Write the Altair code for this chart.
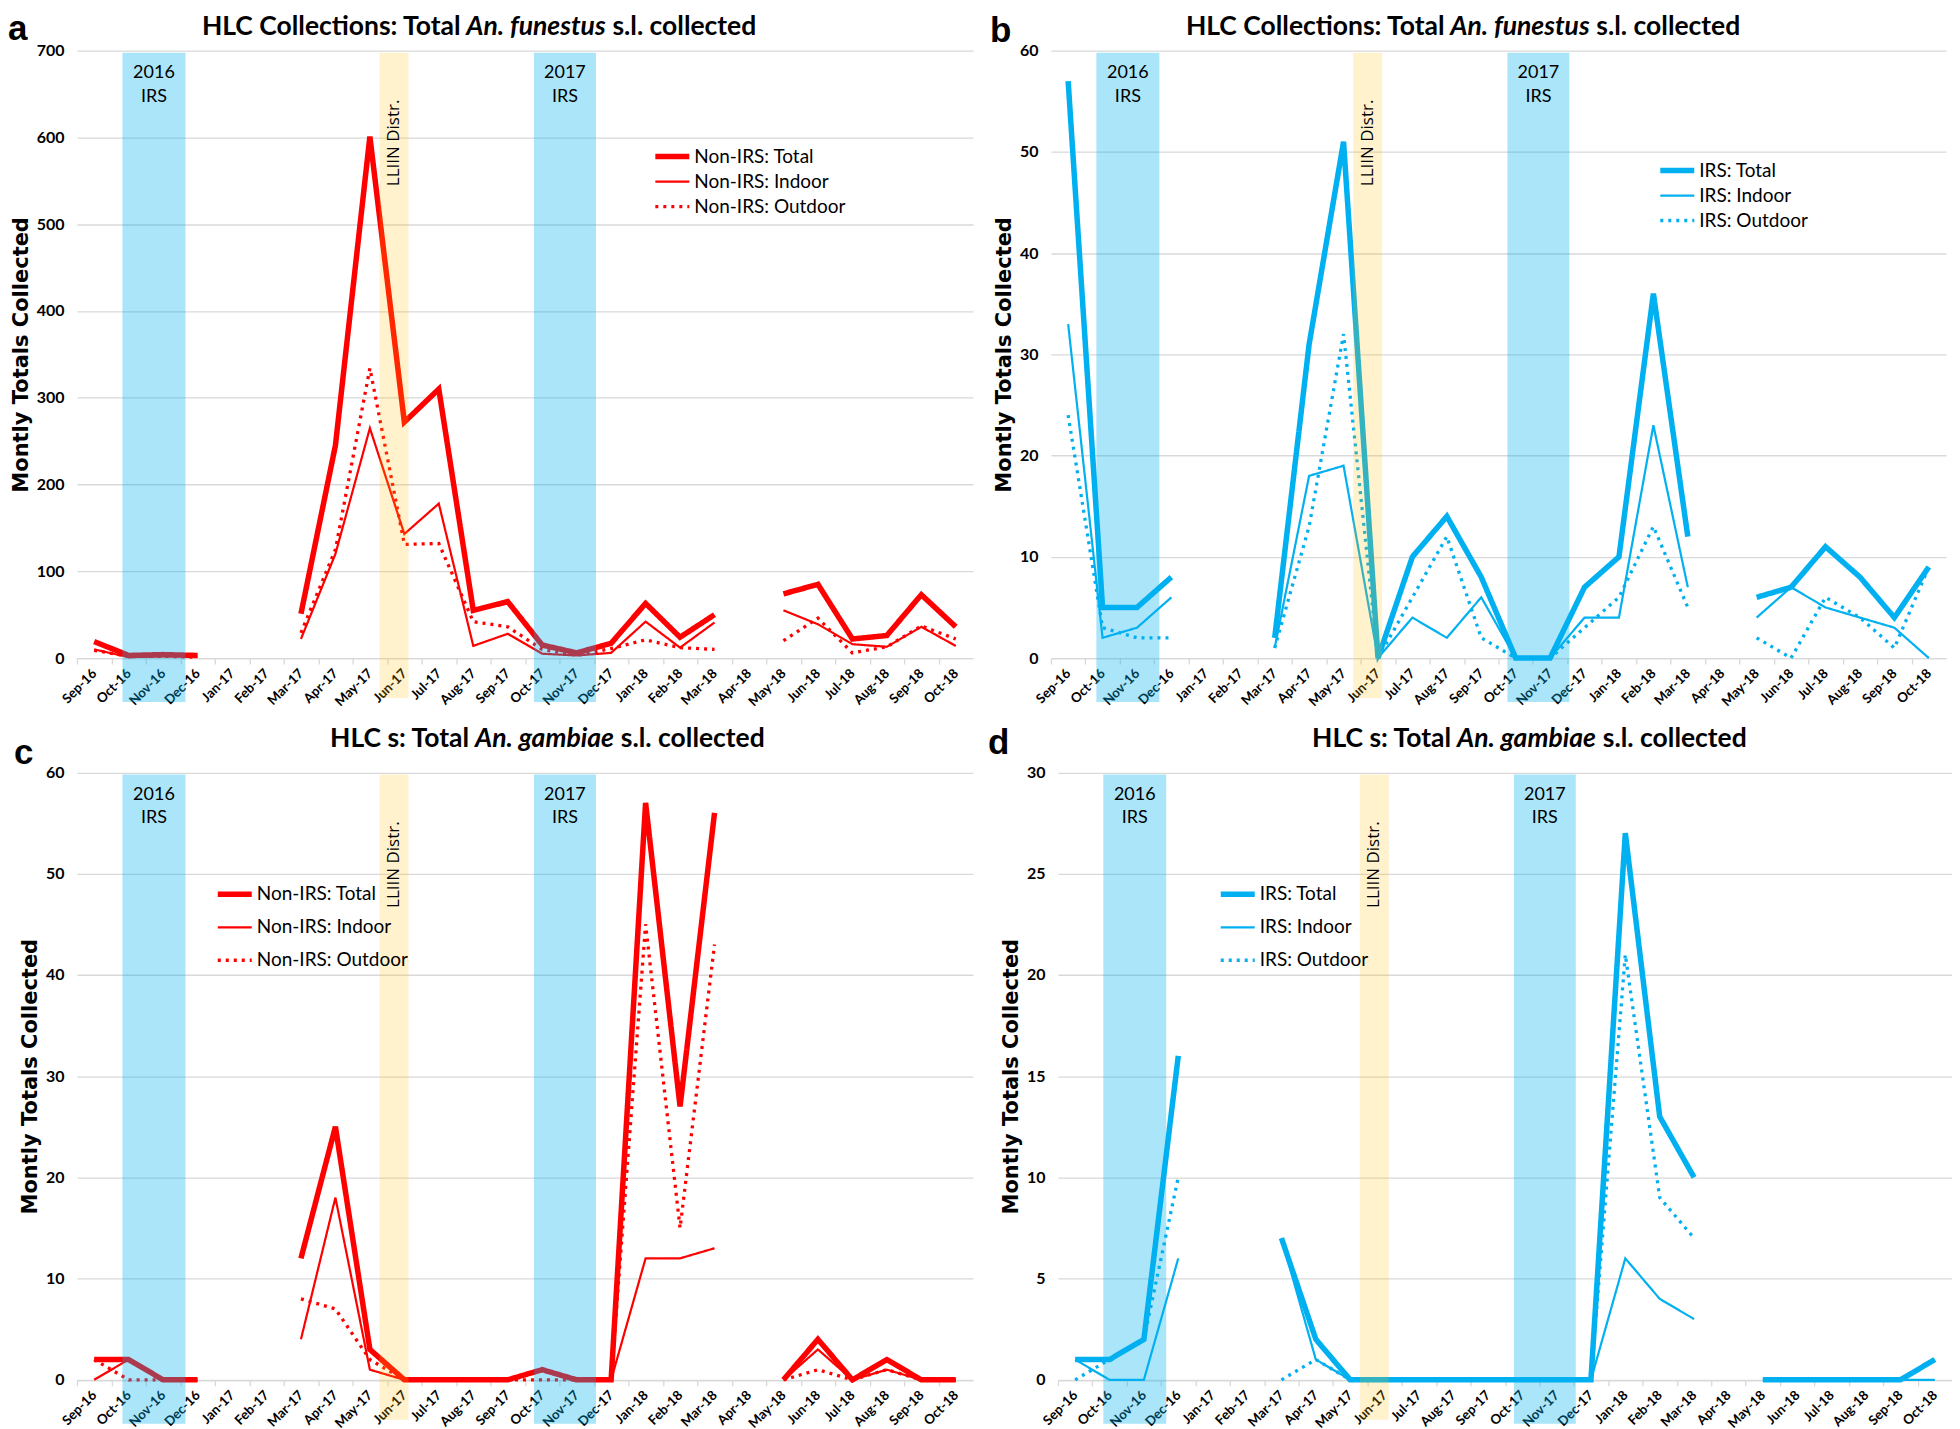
import altair as alt
import pandas as pd

# ---------------- data ----------------
months = ["Sep-16", "Oct-16", "Nov-16", "Dec-16", "Jan-17", "Feb-17", "Mar-17", "Apr-17",
          "May-17", "Jun-17", "Jul-17", "Aug-17", "Sep-17", "Oct-17", "Nov-17", "Dec-17",
          "Jan-18", "Feb-18", "Mar-18", "Apr-18", "May-18", "Jun-18", "Jul-18", "Aug-18",
          "Sep-18", "Oct-18"]
N = None

# (a) Non-IRS, An. funestus
a_total = [19, 3, 4, 3, N, N, 51, 245, 601, 272, 310, 55, 65, 15, 6, 17, 63, 24, 50, N, 74, 85, 22, 26, 73, 36]
a_indoor = [10, 1, 2, 2, N, N, 22, 120, 265, 143, 178, 14, 28, 5, 3, 6, 42, 12, 41, N, 55, 39, 16, 13, 36, 14]
a_outdoor = [9, 2, 2, 1, N, N, 29, 125, 334, 131, 132, 42, 36, 10, 3, 11, 21, 12, 10, N, 20, 46, 6, 13, 37, 22]

# (b) IRS, An. funestus
b_total = [57, 5, 5, 8, N, N, 2, 31, 51, 0, 10, 14, 8, 0, 0, 7, 10, 36, 12, N, 6, 7, 11, 8, 4, 9]
b_indoor = [33, 2, 3, 6, N, N, 1, 18, 19, 0, 4, 2, 6, 0, 0, 4, 4, 23, 7, N, 4, 7, 5, 4, 3, 0]
b_outdoor = [24, 3, 2, 2, N, N, 1, 13, 32, 0, 6, 12, 2, 0, 0, 3, 6, 13, 5, N, 2, 0, 6, 4, 1, 9]

# (c) Non-IRS, An. gambiae
c_total = [2, 2, 0, 0, N, N, 12, 25, 3, 0, 0, 0, 0, 1, 0, 0, 57, 27, 56, N, 0, 4, 0, 2, 0, 0]
c_indoor = [0, 2, 0, 0, N, N, 4, 18, 1, 0, 0, 0, 0, 1, 0, 0, 12, 12, 13, N, 0, 3, 0, 1, 0, 0]
c_outdoor = [2, 0, 0, 0, N, N, 8, 7, 2, 0, 0, 0, 0, 0, 0, 0, 45, 15, 43, N, 0, 1, 0, 1, 0, 0]

# (d) IRS, An. gambiae
d_total = [1, 1, 2, 16, N, N, 7, 2, 0, 0, 0, 0, 0, 0, 0, 0, 27, 13, 10, N, 0, 0, 0, 0, 0, 1]
d_indoor = [1, 0, 0, 6, N, N, 7, 1, 0, 0, 0, 0, 0, 0, 0, 0, 6, 4, 3, N, 0, 0, 0, 0, 0, 0]
d_outdoor = [0, 1, 2, 10, N, N, 0, 1, 0, 0, 0, 0, 0, 0, 0, 0, 21, 9, 7, N, 0, 0, 0, 0, 0, 1]

# intervention periods (in month-index units, Sep-16 = 0)
irs_start = [0.82, 12.76]
irs_end = [2.65, 14.56]
irs_labels = ["2016\nIRS", "2017\nIRS"]
llin_start = [8.28]
llin_end = [9.12]
llin_labels = ["LLIIN Distr."]

# ---------------- style ----------------
RED = "#FF0000"
BLUE = "#00B0F0"
GRID = "#D9D9D9"
PH = 608          # plot height
BELOW = 44        # how far the shaded periods reach below the x axis
CAL = "Lato"
TFS = 26.5        # title font size


def long_df(names, series):
    rows = []
    for name, vals in zip(names, series):
        run, prev = 0, None
        for i, v in enumerate(vals):
            if v is None:
                continue
            if prev is not None and i - prev > 1:
                run += 1
            rows.append({"idx": i, "value": v, "series": name, "seg": f"{name}-{run}"})
            prev = i
    return pd.DataFrame(rows)


def panel(series_vals, prefix, color, ymax, ystep, tparts, tpos, letter, lpos, legpos, width, top, ty):
    names = [f"{prefix}: Total", f"{prefix}: Indoor", f"{prefix}: Outdoor"]
    df = long_df(names, series_vals)
    hv = top + PH
    half = width / 26 / 2
    bounds = [i - 0.5 for i in range(26)]
    arr = "[" + ",".join(f"'{m}'" for m in months) + "]"
    xscale = alt.Scale(domain=[-0.5, 25.5], nice=False, zero=False)
    xaxis = alt.Axis(values=bounds, labelExpr=f"{arr}[round(datum.value + 0.5)]",
                     labelAngle=-45, labelAlign="right", labelBaseline="middle",
                     labelOffset=half, labelPadding=7, labelFont=CAL, labelFontWeight="bold",
                     labelFontSize=13.3, labelColor="black", labelOverlap=False,
                     labelFlush=False, labelBound=False, tickSize=6, tickColor=GRID,
                     tickWidth=1.3, domainColor=GRID, domainWidth=1.3, grid=False, title=None)
    yscale = alt.Scale(domain=[0, ymax], range=[hv, top], nice=False, zero=True)
    yaxis = alt.Axis(values=list(range(0, ymax + 1, ystep)), grid=True, gridColor=GRID,
                     gridWidth=1.3, domain=False, ticks=False, labelFont=CAL,
                     labelFontWeight="bold", labelFontSize=16, labelColor="black",
                     labelPadding=13, title="Montly Totals Collected", titleFont="DejaVu Sans",
                     titleFontWeight="bold", titleFontSize=21, titleColor="black",
                     titlePadding=5, titleY=top + PH / 2)
    leg = alt.Legend(orient="none", legendX=legpos[0], legendY=top + legpos[1], title=None,
                     symbolType="stroke", symbolSize=1156, labelFont=CAL, labelFontSize=19,
                     labelColor="black", labelOffset=2, clipHeight=20, rowPadding=legpos[2],
                     padding=0)
    lines = alt.Chart(df).mark_line(strokeJoin="miter").encode(
        x=alt.X("idx:Q", scale=xscale, axis=xaxis),
        y=alt.Y("value:Q", scale=yscale, axis=yaxis),
        color=alt.Color("series:N", scale=alt.Scale(domain=names, range=[color] * 3), legend=leg),
        strokeDash=alt.StrokeDash("series:N", scale=alt.Scale(domain=names, range=[[1, 0], [1, 0], [3, 5]]), legend=leg),
        strokeWidth=alt.StrokeWidth("series:N", scale=alt.Scale(type="ordinal", domain=names, range=[5.5, 2.2, 3.3]), legend=leg),
        detail="seg:N",
    )
    irs_df = pd.DataFrame({"start": irs_start, "end": irs_end, "label": irs_labels})
    irs_df["mid"] = (irs_df["start"] + irs_df["end"]) / 2
    llin_df = pd.DataFrame({"start": llin_start, "end": llin_end, "label": llin_labels})
    llin_df["mid"] = (llin_df["start"] + llin_df["end"]) / 2

    blue = alt.Chart(irs_df).mark_rect(color=BLUE, opacity=0.33).encode(
        x=alt.X("start:Q", scale=xscale, axis=xaxis), x2="end:Q",
        y=alt.value(top + 2), y2=alt.value(hv + BELOW))
    yellow = alt.Chart(llin_df).mark_rect(color="#FFC000", opacity=0.2).encode(
        x=alt.X("start:Q", scale=xscale, axis=xaxis), x2="end:Q",
        y=alt.value(top + 2), y2=alt.value(hv + BELOW - 4))
    irs_text = alt.Chart(irs_df).mark_text(font=CAL, fontSize=18, lineBreak="\n", lineHeight=23.4,
                                           baseline="middle", align="center", color="black").encode(
        x=alt.X("mid:Q", scale=xscale, axis=xaxis), y=alt.value(top + 22.6), text="label:N")
    llin_text = alt.Chart(llin_df).mark_text(font="Open Sans", fontSize=17, angle=270, align="right",
                                             baseline="middle", color="black").encode(
        x=alt.X("mid:Q", scale=xscale, axis=xaxis), y=alt.value(top + 49), text="label:N")

    def txt(s, x, y, **kw):
        return alt.Chart(pd.DataFrame({"t": [s]})).mark_text(color="black", **kw).encode(
            x=alt.value(x), y=alt.value(y), text="t:N")

    t1 = txt(tparts[0], tpos[0], ty, font=CAL, fontSize=TFS, fontWeight="bold", align="right", baseline="middle")
    t2 = txt(tparts[1], tpos[1], ty, font=CAL, fontSize=TFS, fontWeight="bold", fontStyle="italic",
             align="center", baseline="middle")
    t3 = txt(tparts[2], tpos[2], ty, font=CAL, fontSize=TFS, fontWeight="bold", align="left", baseline="middle")
    lt = txt(letter, lpos[0], top + lpos[1], font="Liberation Sans", fontSize=35, fontWeight="bold",
             align="left", baseline="alphabetic")
    return alt.layer(lines, blue, yellow, irs_text, llin_text, t1, t2, t3, lt).properties(
        width=width, height=hv)


fun = ["HLC Collections: Total", "An. funestus", "s.l. collected"]
gam = ["HLC s: Total", "An. gambiae", "s.l. collected"]

TOP1 = 42
TOP2 = 47.5
pa = panel([a_total, a_indoor, a_outdoor], "Non-IRS", RED, 700, 100, fun, (384, 459.5, 536),
           "a", (-69, -10.5), (576, 106 - 10, 5), 897, TOP1, 18.5)
pb = panel([b_total, b_indoor, b_outdoor], "IRS", BLUE, 60, 10, fun, (394, 469.5, 546),
           "b", (-61, -9), (607, 120 - 10, 5), 896, TOP1, 18.5)
pc = panel([c_total, c_indoor, c_outdoor], "Non-IRS", RED, 60, 10, gam, (392.5, 468, 544.5),
           "c", (-63, -8.3), (138, 122 - 10, 13), 897, TOP2, 14.5)
pd_ = panel([d_total, d_indoor, d_outdoor], "IRS", BLUE, 30, 5, gam, (393.5, 469, 545.5),
            "d", (-70, -18), (160, 122 - 10, 13), 895, TOP2, 14.5)

res = dict(x="independent", y="independent", color="independent",
           strokeDash="independent", strokeWidth="independent")
row1 = alt.hconcat(pa, pb, spacing=17).resolve_scale(**res)
row2 = alt.hconcat(pc, pd_, spacing=15).resolve_scale(**res)
chart = alt.vconcat(row1, row2, spacing=16).resolve_scale(**res).properties(
    padding=0, background="white").configure_view(stroke=None)

chart.save("out.html", embed_options={"renderer": "svg", "actions": False})
